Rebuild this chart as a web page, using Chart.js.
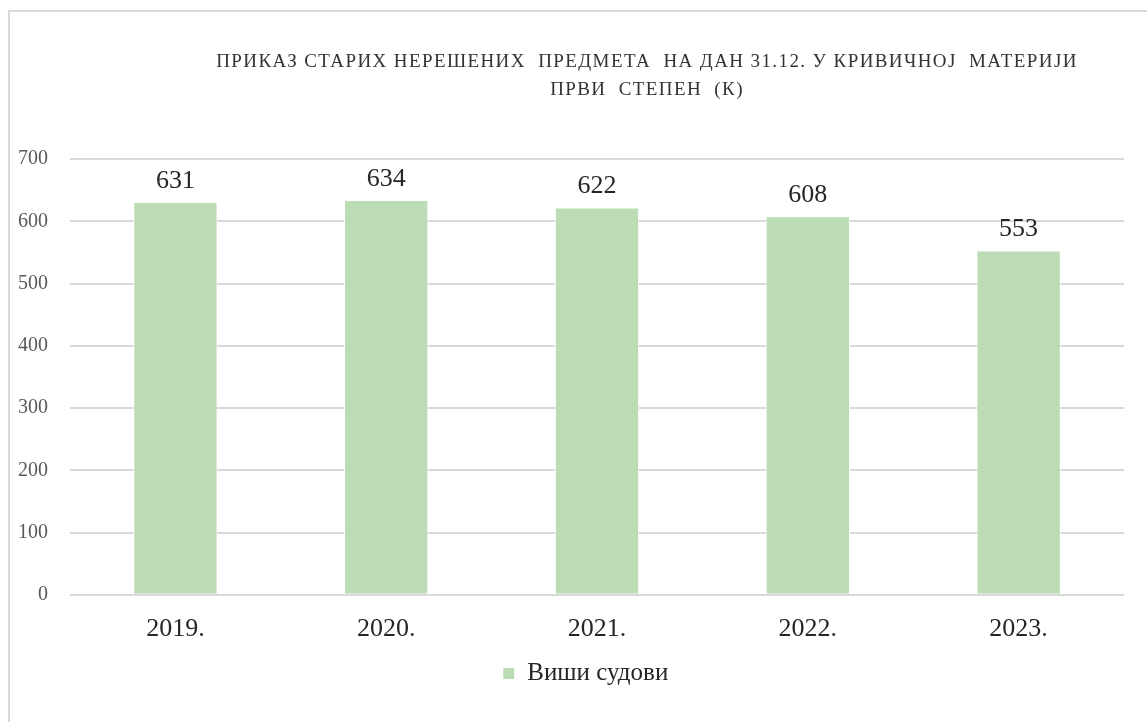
<!DOCTYPE html>
<html>
<head>
<meta charset="utf-8">
<script src="https://cdn.jsdelivr.net/npm/chart.js@4.4.1/dist/chart.umd.min.js"></script>
<style>
  html, body { margin: 0; padding: 0; background: #fff; }
  #frame {
    position: absolute; left: 8px; top: 10px; width: 1139px; height: 712px;
    border-left: 2px solid #d9d9d9; border-top: 2px solid #d9d9d9;
  }
  #wrap { position: absolute; left: 9px; top: 12px; width: 1138px; height: 710px; }
</style>
</head>
<body>
<div id="frame"></div>
<div id="wrap"><canvas id="casesChart"></canvas></div>
<script>
const years = ["2019.", "2020.", "2021.", "2022.", "2023."];
const higherCourts = [631, 634, 622, 608, 553];
const yTicks = [0, 100, 200, 300, 400, 500, 600, 700];
const titleLines = [
  "ПРИКАЗ СТАРИХ НЕРЕШЕНИХ  ПРЕДМЕТА  НА ДАН 31.12. У КРИВИЧНОЈ  МАТЕРИЈИ",
  "ПРВИ  СТЕПЕН  (К)"
];

const serif = "'Liberation Serif', 'Times New Roman', serif";

// values above each bar
const barValues = {
  id: "barValues",
  afterDatasetsDraw(chart) {
    const ctx = chart.ctx;
    ctx.save();
    ctx.font = "26px " + serif;
    ctx.fillStyle = "#262626";
    ctx.textAlign = "center";
    ctx.textBaseline = "bottom";
    chart.getDatasetMeta(0).data.forEach((bar, i) => {
      ctx.fillText(chart.data.datasets[0].data[i], bar.x, bar.y - 8);
    });
    ctx.restore();
  },
};

// title sits a bit right of the centre, legend too
const offsetTitle = {
  id: "offsetTitle",
  afterLayout(chart) {
    chart.legend.left += 19;
    chart.legend.right += 19;
  },
  afterDraw(chart) {
    const ctx = chart.ctx;
    const area = chart.chartArea;
    const cx = (area.left + area.right) / 2 + 50;
    ctx.save();
    ctx.font = "19px " + serif;
    ctx.letterSpacing = "1.4px";
    ctx.fillStyle = "#333333";
    ctx.textAlign = "center";
    ctx.textBaseline = "middle";
    titleLines.forEach((line, i) => ctx.fillText(line, cx, 50 + i * 28));
    ctx.restore();
  },
};

new Chart(document.querySelector("#casesChart"), {
  type: "bar",
  data: {
    labels: years,
    datasets: [
      {
        label: "Виши судови",
        data: higherCourts,
        backgroundColor: "#bbdcb4",
        borderColor: "#ffffff",
        borderWidth: 1,
        barPercentage: 0.4,
        categoryPercentage: 1,
      },
    ],
  },
  options: {
    responsive: true,
    maintainAspectRatio: false,
    animation: false,
    layout: { padding: { top: 147, right: 23, bottom: 26, left: 0 } },
    scales: {
      x: {
        grid: { display: false },
        border: { display: false },
        ticks: { font: { family: serif, size: 26 }, color: "#262626", padding: 11 },
        afterFit(scale) {
          scale.height -= 5;
        },
      },
      y: {
        min: 0,
        max: 700,
        afterBuildTicks(scale) {
          scale.ticks = yTicks.map((v) => ({ value: v }));
        },
        afterFit(scale) {
          scale.width = 61;
        },
        grid: { color: "#d9d9d9", lineWidth: 2, drawTicks: false },
        border: { display: false },
        ticks: { font: { family: serif, size: 20 }, color: "#595959", padding: 22 },
      },
    },
    plugins: {
      legend: {
        position: "bottom",
        labels: {
          font: { family: serif, size: 25 },
          color: "#262626",
          boxWidth: 12,
          boxHeight: 12,
          padding: 10,
        },
      },
      tooltip: { enabled: false },
    },
  },
  plugins: [barValues, offsetTitle],
});
</script>
</body>
</html>
